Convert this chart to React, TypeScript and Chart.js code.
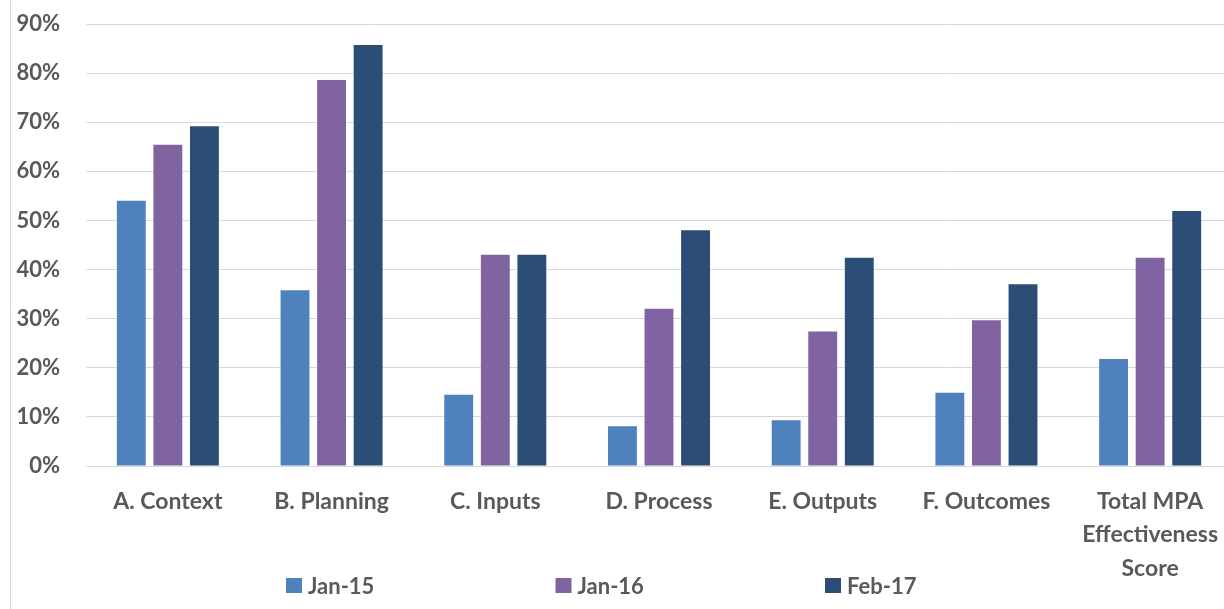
import React, { useEffect, useRef } from "react";
import { Chart, registerables } from "chart.js";

Chart.register(...registerables);

const categories: (string | string[])[] = [
  "A. Context",
  "B. Planning",
  "C. Inputs",
  "D. Process",
  "E. Outputs",
  "F. Outcomes",
  ["Total MPA", "Effectiveness", "Score"],
];
const seriesNames = ["Jan-15", "Jan-16", "Feb-17"];
const jan15 = [54, 35.8, 14.5, 8.1, 9.3, 14.9, 21.8];
const jan16 = [65.4, 78.6, 43, 32, 27.4, 29.7, 42.4];
const feb17 = [69.2, 85.7, 43, 48, 42.4, 37, 51.9];
const colors = ["#4F81BD", "#8064A2", "#2C4D75"];
const yTicks = [0, 10, 20, 30, 40, 50, 60, 70, 80, 90];

const FONT = "Lato, 'Open Sans', sans-serif";
const TEXT = "#595959";

const legendPlugin = {
  id: "customLegend",
  afterDraw(chart: any) {
    const ctx = chart.ctx;
    ctx.save();
    // left border line
    ctx.strokeStyle = "#d9d9d9";
    ctx.lineWidth = 1;
    ctx.beginPath();
    ctx.moveTo(10.5, 0);
    ctx.lineTo(10.5, chart.height);
    ctx.stroke();
    ctx.font = `bold 22px ${FONT}`;
    ctx.textBaseline = "middle";
    ctx.textAlign = "left";
    const y = 585.5;
    chart.data.datasets.forEach((ds: any, i: number) => {
      const x = 286 + i * 269.5;
      ctx.fillStyle = ds.backgroundColor;
      ctx.fillRect(x, y - 7.5, 16, 15);
      ctx.fillStyle = TEXT;
      ctx.fillText(ds.label, x + 22, y + 1);
    });
    ctx.restore();
  },
};

export default function App() {
  const ref = useRef<HTMLCanvasElement | null>(null);
  useEffect(() => {
    if (!ref.current) return;
    const datasets = [jan15, jan16, feb17].map((d, i) => ({
      label: seriesNames[i],
      data: d,
      backgroundColor: colors[i],
      borderWidth: 0,
      categoryPercentage: 0.67,
      barPercentage: 0.79,
    }));
    const chart = new Chart(ref.current, {
      type: "bar",
      data: { labels: categories, datasets },
      options: {
        animation: false,
        responsive: false,
        layout: { padding: { top: 24, left: 0, right: 0, bottom: 0 } },
        plugins: { legend: { display: false }, tooltip: { enabled: false } },
        scales: {
          x: {
            grid: { display: false },
            border: { display: false },
            ticks: {
              autoSkip: false,
              maxRotation: 0,
              minRotation: 0,
              padding: 11,
              color: TEXT,
              font: { family: FONT, size: 23, weight: "bold", lineHeight: 1.45 },
            },
            afterFit: (s: any) => {
              s.height = 143;
            },
          },
          y: {
            min: 0,
            max: 90,
            afterBuildTicks: (s: any) => {
              s.ticks = yTicks.map((v) => ({ value: v }));
            },
            grid: { color: "#d9d9d9", lineWidth: 1, drawTicks: false },
            border: { display: false },
            ticks: {
              padding: 26,
              color: TEXT,
              font: { family: FONT, size: 22, weight: "bold" },
              callback: (v: any) => `${v}%`,
            },
            afterFit: (s: any) => {
              s.width = 86;
              s.paddingTop = 0;
              s.paddingBottom = 0;
            },
          },
        },
      },
      plugins: [legendPlugin],
    });
    return () => chart.destroy();
  }, []);
  return (
    <div
      style={{
        position: "fixed",
        left: 0,
        top: 0,
        width: 1224,
        height: 609,
        overflow: "hidden",
        background: "#fff",
      }}
    >
      <canvas ref={ref} width={1232} height={609} style={{ display: "block" }} />
    </div>
  );
}
